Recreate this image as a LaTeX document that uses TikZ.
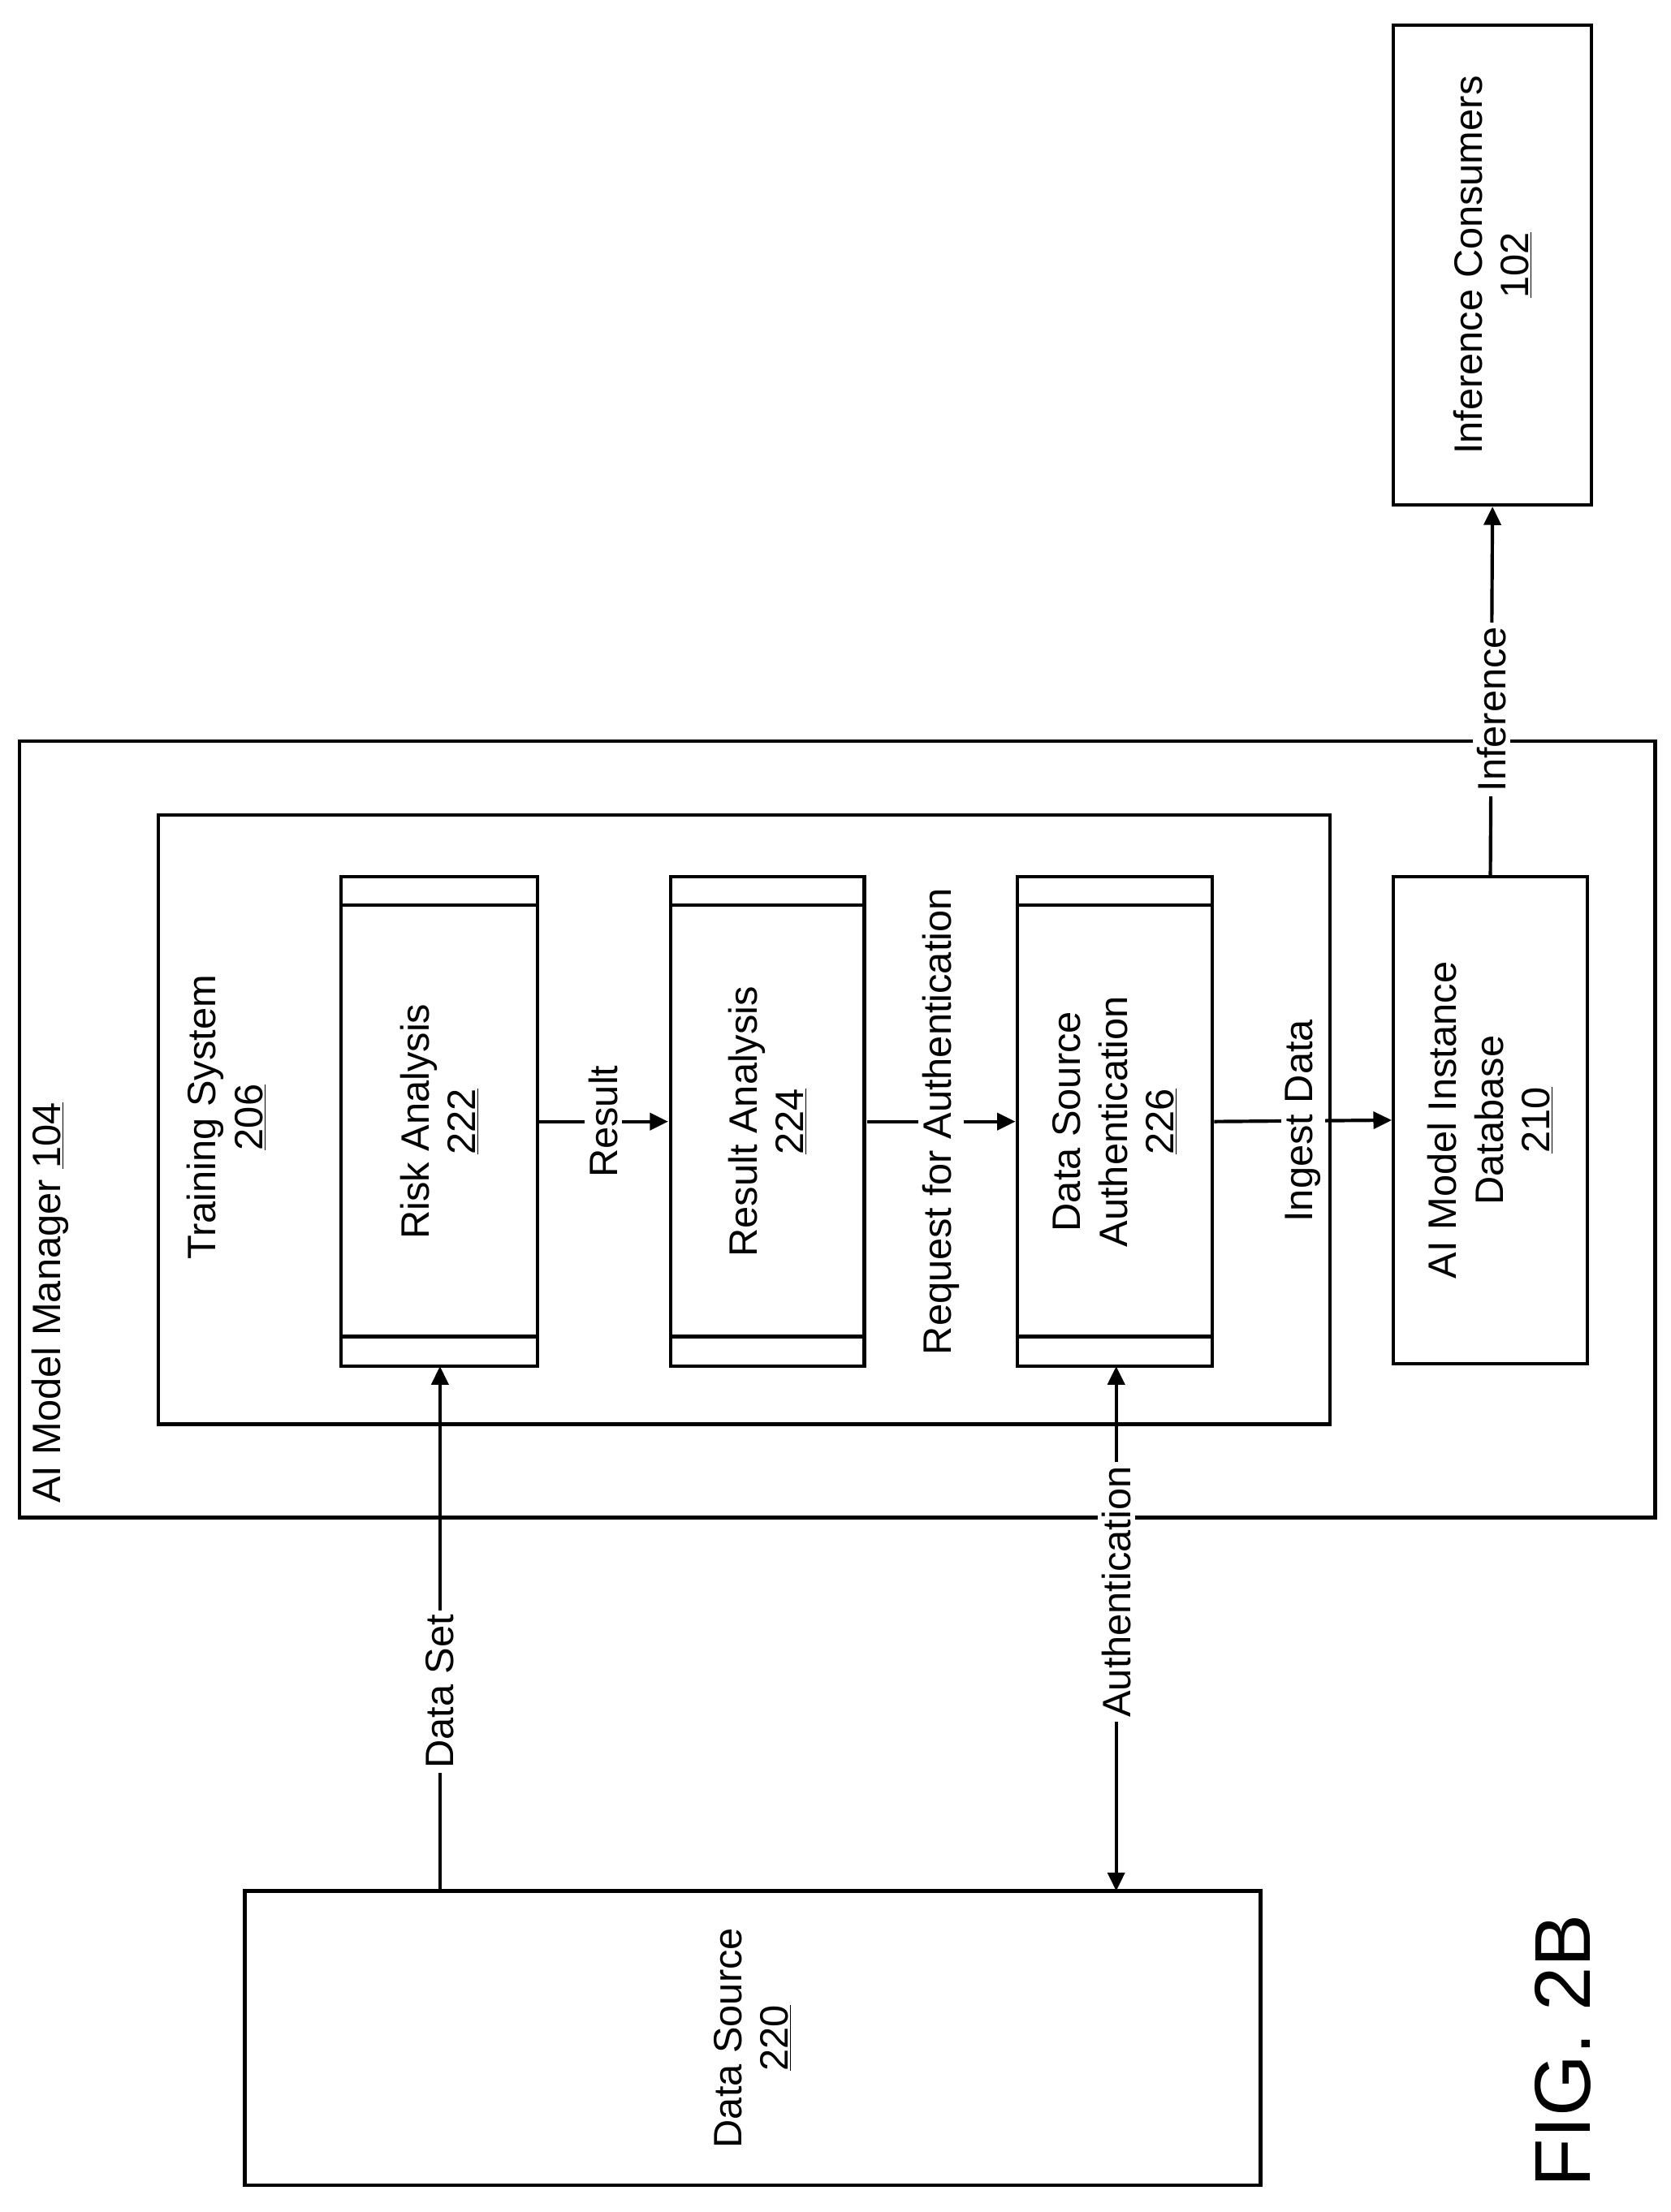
\documentclass[tikz,border=0pt]{standalone}
\usepackage{fontspec}
\setmainfont{Liberation Sans}
\usetikzlibrary{arrows.meta}
\begin{document}
\begin{tikzpicture}[x=1pt,y=-1pt,line width=2.4pt,
  every node/.style={font=\fontsize{28}{33}\selectfont},
  lbl/.style={rotate=90,align=center,inner sep=2pt},
  box/.style={draw,rectangle},
  arr/.style={-{Triangle[length=13pt,width=12pt]}},
  darr/.style={{Triangle[length=13pt,width=12pt]}-{Triangle[length=13pt,width=12pt]}},
  wl/.style={fill=white,rotate=90,inner sep=3pt}]
\useasboundingbox (0,0) rectangle (1181,1564);
% outer
\draw (14,524) rectangle (1170,1073);
\node[lbl,anchor=south west] (amm) at (52,1066) {AI Model Manager \underline{104}};
\draw (112,576) rectangle (940,1007);
\node[lbl] (ts) at (160,790) {Training System\\\underline{206}};
% components
\foreach \n/\xa/\xb/\t in {ra/241/380/{Risk Analysis\\\underline{222}},
  rs/474/611/{Result Analysis\\\underline{224}},
  dsa/719/857/{Data Source\\Authentication\\\underline{226}}}{
  \draw (\xa,620) rectangle (\xb,966);
  \draw (\xa,640) -- (\xb,640);
  \draw (\xa,945) -- (\xb,945);
  \node[lbl,minimum width=346pt,minimum height=138pt] (\n) at ({(\xa+\xb)/2},793) {\t};
}
\node[box,lbl,minimum width=344pt,minimum height=137pt,inner sep=0pt] (db) at (1053.5,792) {AI Model Instance\\Database\\\underline{210}};
\node[box,lbl,minimum width=339pt,minimum height=140pt,inner sep=0pt] (ic) at (1055,187.5) {Inference Consumers\\\underline{102}};
\node[box,lbl,minimum width=208pt,minimum height=718pt,inner sep=0pt] (ds) at (532,1441) {Data Source\\\underline{220}};
\node[rotate=90,font=\fontsize{56}{60}\selectfont] (fig) at (1105,1450) {FIG. 2B};
% arrows
\draw[arr] (ra.south) -- node[wl]{Result} (rs.north);
\draw[arr] (rs.south) -- node[wl]{Request for Authentication} (dsa.north);
\draw[arr] (dsa.south) -- node[wl]{Ingest Data} (db.north);
\draw[arr] (db.east) -- node[wl,pos=0.45]{Inference} (ic.west);
\coordinate (dsa1) at (311,1337);
\coordinate (ra1) at (311,966);
\draw[arr] (dsa1) -- node[wl,pos=0.38]{Data Set} (ra1);
\coordinate (da1) at (789,1337);
\coordinate (da2) at (789,966);
\draw[darr] (da1) -- node[wl,pos=0.57]{Authentication} (da2);
\end{tikzpicture}
\end{document}
